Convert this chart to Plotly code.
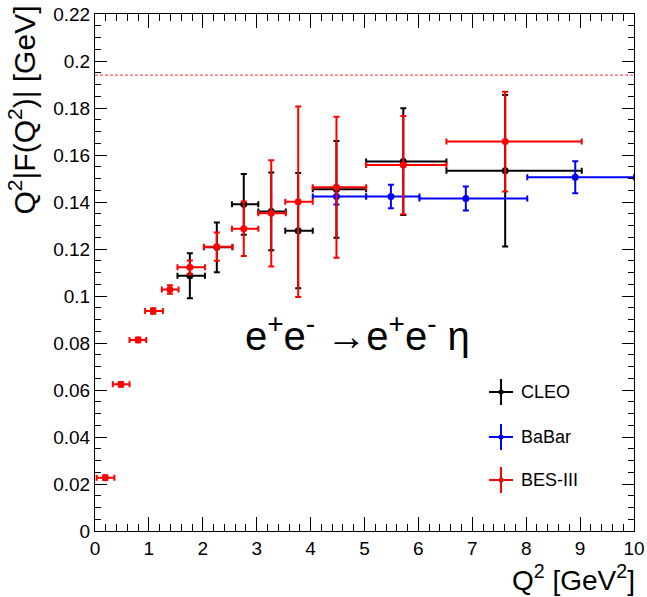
import plotly.graph_objects as go

# ---------------- data ----------------
# CLEO
cleo_x = [1.76, 2.26, 2.76, 3.27, 3.77, 4.48, 5.72, 7.61]
cleo_xlo = [1.53, 2.02, 2.54, 3.03, 3.53, 4.04, 5.03, 6.52]
cleo_xhi = [2.04, 2.55, 3.03, 3.54, 4.04, 5.03, 6.52, 9.03]
cleo_y = [0.1086, 0.1207, 0.1390, 0.1360, 0.1278, 0.1454, 0.1572, 0.1533]
cleo_yerr = [0.0096, 0.0106, 0.0129, 0.0165, 0.0245, 0.0206, 0.0227, 0.0322]

# BaBar
babar_x = [4.48, 5.49, 6.88, 8.91]
babar_xlo = [4.04, 5.03, 6.02, 8.02]
babar_xhi = [5.03, 6.02, 8.02, 10.0]
babar_y = [0.1423, 0.1423, 0.1415, 0.1505]
babar_yerr = [0.0034, 0.0050, 0.0051, 0.0068]

# BES-III
bes_x = [0.19, 0.48, 0.80, 1.08, 1.39, 1.76, 2.26, 2.76, 3.27, 3.77, 4.48, 5.72, 7.61]
bes_xlo = [0.03, 0.33, 0.64, 0.93, 1.24, 1.53, 2.02, 2.54, 3.03, 3.53, 4.04, 5.03, 6.52]
bes_xhi = [0.36, 0.64, 0.95, 1.26, 1.55, 2.04, 2.55, 3.03, 3.54, 4.04, 5.03, 6.52, 9.03]
bes_y = [0.0227, 0.0624, 0.0813, 0.0936, 0.1028, 0.1122, 0.1210, 0.1286, 0.1352, 0.1401, 0.1463, 0.1557, 0.1657]
bes_yerr = [0.0010, 0.0010, 0.0010, 0.0012, 0.0018, 0.0029, 0.0060, 0.0116, 0.0226, 0.0405, 0.0300, 0.0209, 0.0212]

limit_y = 0.194  # asymptotic limit (dotted line)

x_ticks = list(range(0, 11))
y_ticks = [0, 0.02, 0.04, 0.06, 0.08, 0.1, 0.12, 0.14, 0.16, 0.18, 0.2, 0.22]
y_ticklabels = ["0", "0.02", "0.04", "0.06", "0.08", "0.1", "0.12", "0.14", "0.16", "0.18", "0.2", "0.22"]

series = [
    ("CLEO", cleo_x, cleo_xlo, cleo_xhi, cleo_y, cleo_yerr, "black"),
    ("BaBar", babar_x, babar_xlo, babar_xhi, babar_y, babar_yerr, "blue"),
    ("BES-III", bes_x, bes_xlo, bes_xhi, bes_y, bes_yerr, "red"),
]

FONT = "Liberation Sans, Arial, sans-serif"

fig = go.Figure()
# dotted limit line
fig.add_trace(go.Scatter(x=[0, 10], y=[limit_y, limit_y], mode="lines", showlegend=False,
                         line=dict(color="#ff3030", width=1, dash="3px,2px")))
for name, xs, xlo, xhi, ys, ye, col in series:
    fig.add_trace(go.Scatter(
        x=xs, y=ys, mode="markers", name=name, showlegend=False,
        marker=dict(symbol="circle", size=7, color=col),
        error_x=dict(type="data", symmetric=False,
                     array=[h - x for h, x in zip(xhi, xs)],
                     arrayminus=[x - l for l, x in zip(xlo, xs)],
                     color=col, thickness=2, width=3),
        error_y=dict(type="data", array=ye, color=col, thickness=2, width=3),
    ))

# ---------------- layout ----------------
W, H = 647, 597
L, R, T, B = 95, 13, 14, 66
pw, ph = W - L - R, H - T - B

def px(xp):
    return (xp - L) / pw

def py(yp):
    return (H - B - yp) / ph

fig.update_layout(
    width=W, height=H,
    margin=dict(l=L, r=R, t=T, b=B, autoexpand=False),
    paper_bgcolor="white", plot_bgcolor="white",
    font=dict(family=FONT, size=19, color="black"),
    showlegend=False,
)
fig.update_xaxes(range=[0, 10], tickvals=x_ticks, ticks="inside", ticklen=14, tickwidth=1,
                 tickcolor="black", showline=True, linecolor="black", linewidth=1,
                 mirror="ticks", showgrid=False, zeroline=False, automargin=False,
                 tickfont=dict(size=19),
                 minor=dict(dtick=0.2, ticks="inside", ticklen=7, tickcolor="black", showgrid=False))
fig.update_yaxes(range=[0, 0.22], tickvals=y_ticks, ticktext=y_ticklabels, ticks="inside",
                 ticklen=12, tickwidth=1, tickcolor="black", showline=True, linecolor="black",
                 linewidth=1, mirror="ticks", showgrid=False, zeroline=False, automargin=False,
                 tickfont=dict(size=19),
                 minor=dict(dtick=0.005, ticks="inside", ticklen=6, tickcolor="black", showgrid=False))

ann = []
# axis titles
ann.append(dict(text="Q<sup>2</sup> [GeV<sup>2</sup>]", xref="paper", yref="paper",
                x=px(637), y=py(558), xanchor="right", yanchor="top", showarrow=False,
                font=dict(size=28, family=FONT)))
ann.append(dict(text="Q<sup>2</sup>|F(Q<sup>2</sup>)| [GeV]", xref="paper", yref="paper",
                x=px(22), y=py(4), xanchor="center", yanchor="top", textangle=-90,
                showarrow=False, font=dict(size=30, family=FONT)))
# reaction label
ann.append(dict(text="e<sup>+</sup>e<sup>-</sup> \u2192e<sup>+</sup>e<sup>-</sup> \u03b7",
                xref="paper", yref="paper", x=px(357), y=py(333), xanchor="center",
                yanchor="middle", showarrow=False, font=dict(size=40, family=FONT)))

# legend (manual, ROOT style)
shapes = []
leg_rows = [(392, "CLEO", "black"), (437, "BaBar", "blue"), (480, "BES-III", "red")]
for yp, name, col in leg_rows:
    shapes.append(dict(type="line", xref="paper", yref="paper", x0=px(489), x1=px(513),
                       y0=py(yp), y1=py(yp), line=dict(color=col, width=2)))
    shapes.append(dict(type="line", xref="paper", yref="paper", x0=px(501), x1=px(501),
                       y0=py(yp - 13), y1=py(yp + 13), line=dict(color=col, width=2)))
    shapes.append(dict(type="circle", xref="paper", yref="paper", x0=px(498.5), x1=px(503.5),
                       y0=py(yp + 2.5), y1=py(yp - 2.5), fillcolor=col, line=dict(color=col, width=0)))
    ann.append(dict(text=name, xref="paper", yref="paper", x=px(519), y=py(yp),
                    xanchor="left", yanchor="middle", showarrow=False,
                    font=dict(size=18, family=FONT)))

fig.update_layout(annotations=ann, shapes=shapes)
fig.write_html("out.html", config={"displayModeBar": False},
               post_script="document.body.style.margin='0';document.body.style.overflow='hidden';")
